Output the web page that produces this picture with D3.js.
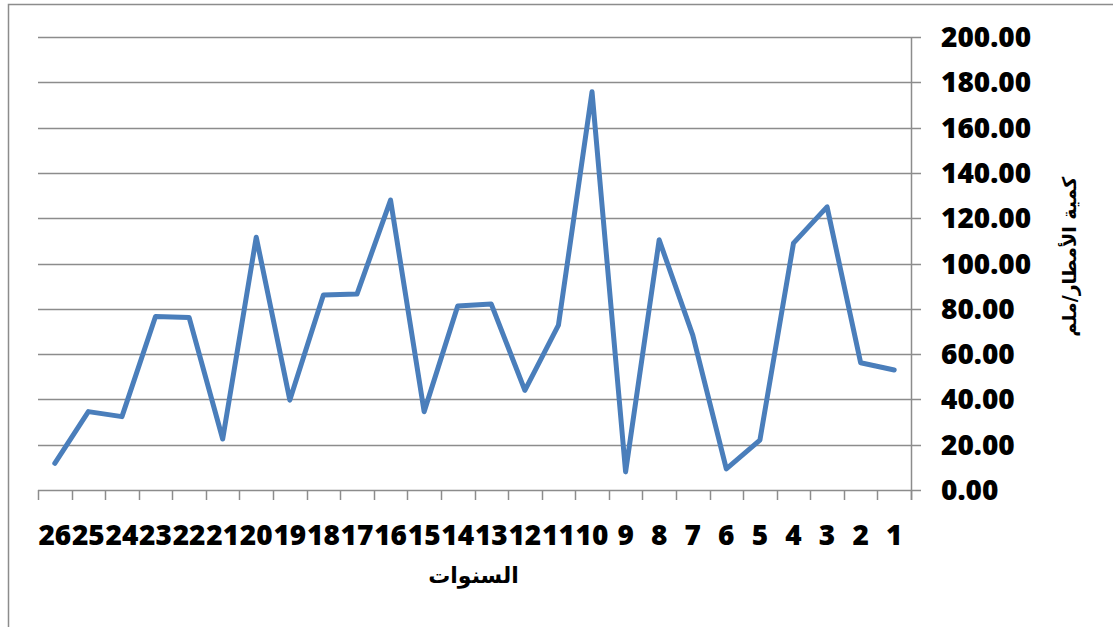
<!DOCTYPE html>
<html>
<head>
<meta charset="utf-8">
<script src="https://cdn.jsdelivr.net/npm/d3@7"></script>
<style>
  body { margin: 0; background: #fff; }
  svg { display: block; }
</style>
</head>
<body>
<div id="chart"></div>
<script>
// years 1..26, drawn right to left
var years = d3.range(1, 27).map(String);
var rainfall = [53.0, 56.2, 125.0, 109.0, 22.0, 9.3, 68.4, 110.4, 8.0, 175.8,
                72.8, 44.0, 82.1, 81.2, 34.6, 128.0, 86.5, 86.1, 39.7, 111.6,
                22.5, 76.2, 76.6, 32.4, 34.6, 11.8];
var yTicks = [0, 20, 40, 60, 80, 100, 120, 140, 160, 180, 200];

var svgWidth = 1113;
var svgHeight = 627;

var margin = { top: 37, right: 202, bottom: 137, left: 38 };
var width = svgWidth - margin.left - margin.right;
var height = svgHeight - margin.top - margin.bottom;

var svg = d3.select("#chart")
    .append("svg")
    .attr("width", svgWidth)
    .attr("height", svgHeight);

// outer frame (runs off the right and bottom edges)
svg.append("rect")
    .attr("x", 8.5)
    .attr("y", 4.5)
    .attr("width", 1200)
    .attr("height", 700)
    .attr("fill", "none")
    .attr("stroke", "#8c8c8c")
    .attr("stroke-width", 1.5);

var chartGroup = svg.append("g")
    .attr("transform", `translate(${margin.left}, ${margin.top})`);

var xScale = d3.scaleBand()
    .domain(years.slice().reverse())
    .range([0, width]);

var yScale = d3.scaleLinear()
    .domain([0, 200])
    .range([height, 0]);

// gridlines
chartGroup.append("g")
    .selectAll("line")
    .data(yTicks)
    .enter()
    .append("line")
    .attr("x1", 0)
    .attr("x2", width + 10)
    .attr("y1", d => Math.round(yScale(d)) + 0.5)
    .attr("y2", d => Math.round(yScale(d)) + 0.5)
    .attr("stroke", "#8c8c8c")
    .attr("stroke-width", 1.5);

// right axis line
chartGroup.append("line")
    .attr("x1", width + 0.5)
    .attr("x2", width + 0.5)
    .attr("y1", 0)
    .attr("y2", height + 10)
    .attr("stroke", "#8c8c8c")
    .attr("stroke-width", 1.5);

// x tick marks at category boundaries
var boundaries = d3.range(0, years.length + 1).map(i => i * xScale.step());
chartGroup.append("g")
    .selectAll("line")
    .data(boundaries)
    .enter()
    .append("line")
    .attr("x1", d => Math.round(d) + 0.5)
    .attr("x2", d => Math.round(d) + 0.5)
    .attr("y1", height)
    .attr("y2", height + 10)
    .attr("stroke", "#8c8c8c")
    .attr("stroke-width", 1.5);

// y labels
chartGroup.append("g")
    .selectAll("text")
    .data(yTicks)
    .enter()
    .append("text")
    .attr("x", width + 30)
    .attr("y", d => yScale(d))
    .attr("dy", "0.36em")
    .attr("font-family", "'Open Sans', sans-serif")
    .attr("font-weight", 800)
    .attr("font-size", "28px")
    .attr("fill", "#000")
    .text(d => d.toFixed(2));

// x labels
chartGroup.append("g")
    .selectAll("text")
    .data(years)
    .enter()
    .append("text")
    .attr("x", d => xScale(d) + xScale.bandwidth() / 2)
    .attr("y", height + 55)
    .attr("text-anchor", "middle")
    .attr("font-family", "'Open Sans', sans-serif")
    .attr("font-weight", 800)
    .attr("font-size", "28px")
    .attr("fill", "#000")
    .text(d => d);

// line
var line = d3.line()
    .x((d, i) => xScale(years[i]) + xScale.bandwidth() / 2)
    .y(d => yScale(d));

chartGroup.append("path")
    .datum(rainfall)
    .attr("d", line)
    .attr("fill", "none")
    .attr("stroke", "#4a7ebb")
    .attr("stroke-width", 5)
    .attr("stroke-linejoin", "round")
    .attr("stroke-linecap", "round");

// axis titles
chartGroup.append("text")
    .attr("transform", `translate(${width / 2 - 1}, ${height + 93})`)
    .attr("text-anchor", "middle")
    .attr("font-family", "'DejaVu Sans', sans-serif")
    .attr("font-weight", "bold")
    .attr("font-size", "22px")
    .attr("fill", "#000")
    .text("السنوات");

chartGroup.append("text")
    .attr("transform", `translate(${width + 165}, ${yScale(103)}) rotate(-90)`)
    .attr("text-anchor", "middle")
    .attr("font-family", "'DejaVu Sans', sans-serif")
    .attr("font-weight", "bold")
    .attr("font-size", "19px")
    .attr("fill", "#000")
    .text("كمية الأمطار/ملم");
</script>
</body>
</html>
